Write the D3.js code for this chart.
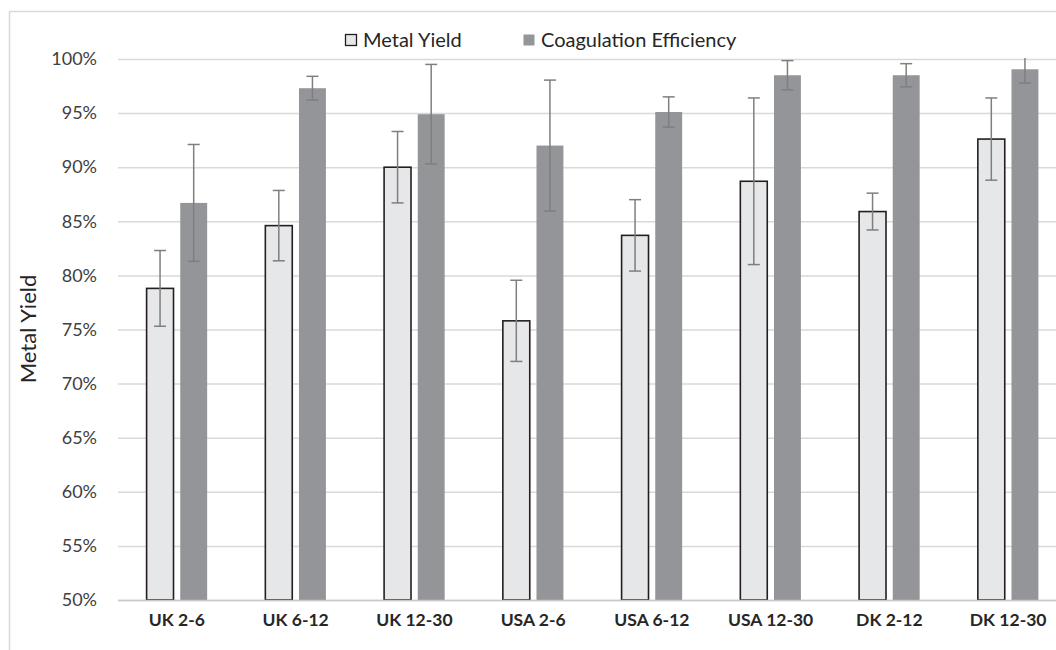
<!DOCTYPE html>
<html><head><meta charset="utf-8">
<script src="https://cdn.jsdelivr.net/npm/d3@7"></script>
<style>body{margin:0;background:#fff}svg{display:block}</style>
</head><body>
<script>
const categories = ["UK 2-6","UK 6-12","UK 12-30","USA 2-6","USA 6-12","USA 12-30","DK 2-12","DK 12-30"];
const seriesNames = ["Metal Yield","Coagulation Efficiency"];
const metalYield = [78.8,84.6,90.0,75.8,83.7,88.7,85.9,92.6];
const metalYieldErr = [3.5,3.25,3.3,3.75,3.3,7.7,1.7,3.8];
const coagEff = [86.7,97.3,94.9,92.0,95.1,98.5,98.5,99.05];
const coagEffErr = [5.4,1.1,4.6,6.05,1.4,1.35,1.07,1.27];
const yTicks = [50,55,60,65,70,75,80,85,90,95,100];
const yLabel = "Metal Yield";

const W=1056,H=650;
const svg=d3.select("body").append("svg").attr("width",W).attr("height",H);
const font="Lato, 'Open Sans', 'Liberation Sans', sans-serif";
// outer border
svg.append("rect").attr("x",9.5).attr("y",11.5).attr("width",1100).attr("height",700)
  .attr("fill","none").attr("stroke","#d9d9d9").attr("stroke-width",1.5);

const x0=d3.scaleBand().domain(categories).range([117.5,1067.5]).paddingInner(0.49).paddingOuter(0.245);
const y=d3.scaleLinear().domain([50,100]).range([600,59]);
const x1=d3.scaleBand().domain(seriesNames).range([0,x0.bandwidth()]).paddingInner(0.2);

// gridlines
const grid=svg.append("g")
  .call(d3.axisLeft(y).tickValues(yTicks).tickSize(-(1070-118)).tickFormat(d=>d+"%"));
grid.attr("transform","translate(118,0)");
grid.select(".domain").remove();
grid.selectAll(".tick line").attr("stroke","#d9d9d9").attr("stroke-width",1.5);
grid.selectAll(".tick text").attr("x",-21).attr("font-family",font).attr("font-size",18).attr("fill","#404040");

svg.append("clipPath").attr("id","pc").append("rect").attr("x",110).attr("y",58).attr("width",1000).attr("height",560);
const plot=svg.append("g").attr("clip-path","url(#pc)");

const data=categories.map((c,i)=>({c,v:[
  {s:seriesNames[0],v:metalYield[i],e:metalYieldErr[i]},
  {s:seriesNames[1],v:coagEff[i],e:coagEffErr[i]}]}));

const g=plot.selectAll("g.cat").data(data).join("g").attr("class","cat")
  .attr("transform",d=>`translate(${x0(d.c)},0)`);
g.selectAll("rect").data(d=>d.v).join("rect")
  .attr("x",d=>x1(d.s)).attr("width",x1.bandwidth())
  .attr("y",d=>y(d.v)).attr("height",d=>y(50)-y(d.v))
  .attr("fill",d=>d.s===seriesNames[0]?"#e6e7e8":"#939598")
  .attr("stroke",d=>d.s===seriesNames[0]?"#231f20":"none")
  .attr("stroke-width",1.6);
// error bars
const eb=g.selectAll("g.eb").data(d=>d.v).join("g").attr("class","eb")
  .attr("stroke","#7f7f7f").attr("stroke-width",1.5);
const cx=d=>x1(d.s)+x1.bandwidth()/2;
eb.append("line").attr("x1",cx).attr("x2",cx)
  .attr("y1",d=>y(d.v+d.e)).attr("y2",d=>y(d.v-d.e));
eb.append("line").attr("x1",d=>cx(d)-6).attr("x2",d=>cx(d)+6)
  .attr("y1",d=>y(d.v+d.e)).attr("y2",d=>y(d.v+d.e));
eb.append("line").attr("x1",d=>cx(d)-6).attr("x2",d=>cx(d)+6)
  .attr("y1",d=>y(d.v-d.e)).attr("y2",d=>y(d.v-d.e));

// x axis
const xa=svg.append("g").attr("transform","translate(0,600)")
  .call(d3.axisBottom(x0).tickSize(0).tickPadding(14));
xa.select(".domain").attr("stroke","#c8c8c8").attr("stroke-width",1.5);
xa.selectAll(".tick text").attr("font-family",font).attr("font-weight","bold").attr("font-size",17.5).attr("fill","#262626");

// y title
svg.append("text").attr("transform","translate(36,329) rotate(-90)").attr("text-anchor","middle")
  .attr("font-family",font).attr("font-size",22).attr("fill","#262626").text(yLabel);

// legend
const leg=[{x:345,tx:363,fill:"#e6e7e8",stroke:"#231f20"},{x:523,tx:541,fill:"#939598",stroke:"none"}];
seriesNames.forEach((s,i)=>{
  svg.append("rect").attr("x",leg[i].x+0.5).attr("y",34.5).attr("width",11).attr("height",11)
    .attr("fill",leg[i].fill).attr("stroke",leg[i].stroke).attr("stroke-width",1.3);
  svg.append("text").attr("x",leg[i].tx).attr("y",47).attr("font-family",font).attr("font-size",20)
    .attr("fill","#262626").text(s);
});
</script>
</body></html>
